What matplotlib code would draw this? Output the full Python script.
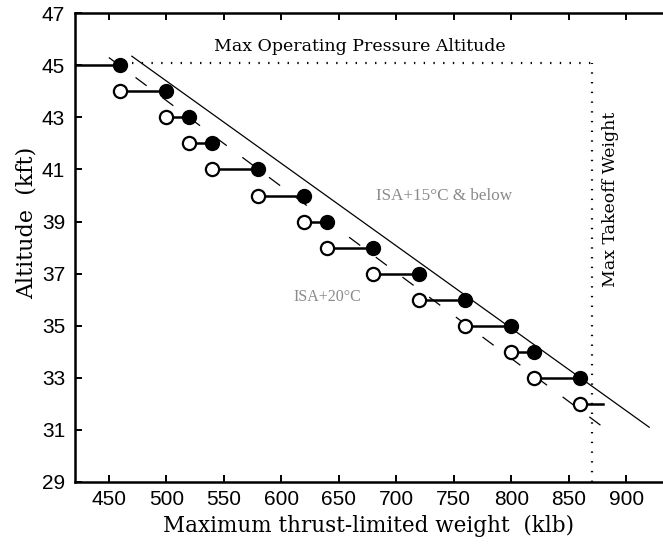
import matplotlib
matplotlib.use("Agg")
import matplotlib.pyplot as plt

# Altitude levels (kft) and thrust-limited weights (klb)
alt_isa15 = [45, 44, 43, 42, 41, 40, 39, 38, 37, 36, 35, 34, 33]
wt_isa15 = [460, 500, 520, 540, 580, 620, 640, 680, 720, 760, 800, 820, 860]

alt_isa20 = [44, 43, 42, 41, 40, 39, 38, 37, 36, 35, 34, 33, 32]
wt_isa20 = [460, 500, 520, 540, 580, 620, 640, 680, 720, 760, 800, 820, 860]

# Horizontal step segments joining the two temperature cases
seg_alt = [45, 44, 43, 42, 41, 40, 39, 38, 37, 36, 35, 34, 33, 32]
seg_from = [420, 460, 500, 520, 540, 580, 620, 640, 680, 720, 760, 800, 820, 860]
seg_to = [460, 500, 520, 540, 580, 620, 640, 680, 720, 760, 800, 820, 860, 880]

# Envelope lines
env15_x = [470, 920]
env15_y = [45.35, 31.1]
env20_x = [450, 883]
env20_y = [45.3, 31.0]

# Operating limits
max_alt = 45.1
max_tow = 870

xticks = [450, 500, 550, 600, 650, 700, 750, 800, 850, 900]
yticks = [29, 31, 33, 35, 37, 39, 41, 43, 45, 47]

plt.rcParams['lines.scale_dashes'] = False
serif = ['DejaVu Serif']
serif_light = ['Liberation Serif', 'DejaVu Serif']
sans = ['Liberation Sans', 'DejaVu Sans']

fig = plt.figure(figsize=(6.63, 5.52), dpi=100)
ax = fig.add_axes([0.113, 0.127, 0.887, 0.849])
ax.set_xlim(420.5, 932)
ax.set_ylim(29, 47)

# limit lines
ax.plot([env15_x[0], max_tow], [max_alt, max_alt], color='black', lw=1.6,
        linestyle=(0, (1, 6)), zorder=1)
ax.plot([max_tow, max_tow], [29, max_alt], color='black', lw=1.6,
        linestyle=(0, (1, 6)), zorder=1)

# envelopes
ax.plot(env15_x, env15_y, color='black', lw=0.9, zorder=2)
ax.plot(env20_x, env20_y, color='black', lw=0.9, dashes=(10, 14), zorder=2)

for a, x0, x1 in zip(seg_alt, seg_from, seg_to):
    ax.plot([x0, x1], [a, a], color='black', lw=1.8, zorder=3)

ax.plot(wt_isa15, alt_isa15, 'o', color='black', ms=10, zorder=4)
ax.plot(wt_isa20, alt_isa20, 'o', mfc='white', mec='black', mew=1.6, ms=9.5, zorder=4)

ax.text(668, 45.72, 'Max Operating Pressure Altitude', ha='center', va='center',
        fontsize=12.5, family=serif)
ax.text(886, 39.85, 'Max Takeoff Weight', ha='center', va='center', rotation=90,
        fontsize=12.5, family=serif)
ax.text(742, 40.0, 'ISA+15°C & below', ha='center', va='center',
        fontsize=12.3, family=serif_light, color='#8a8a8a')
ax.text(640, 36.1, 'ISA+20°C', ha='center', va='center',
        fontsize=11.5, family=serif_light, color='#8a8a8a')

ax.set_xticks(xticks)
ax.set_yticks(yticks)
ax.set_xticklabels([str(v) for v in xticks], family=sans, fontsize=15)
ax.set_yticklabels([str(v) for v in yticks], family=sans, fontsize=15)
ax.tick_params(direction='in', length=5, width=1.4, top=True, right=False)
ax.tick_params(axis='y', pad=7)
ax.tick_params(axis='x', pad=6)
ax.set_xlabel('Maximum thrust-limited weight  (klb)', family=serif, fontsize=15.5, labelpad=4)
ax.set_ylabel('Altitude  (kft)', family=serif, fontsize=16, labelpad=2)
ax.yaxis.set_label_coords(-0.064, 0.553)

for side in ['left', 'bottom', 'top']:
    ax.spines[side].set_linewidth(1.8)
ax.spines['right'].set_visible(False)

fig.savefig('out.png', dpi=100)
